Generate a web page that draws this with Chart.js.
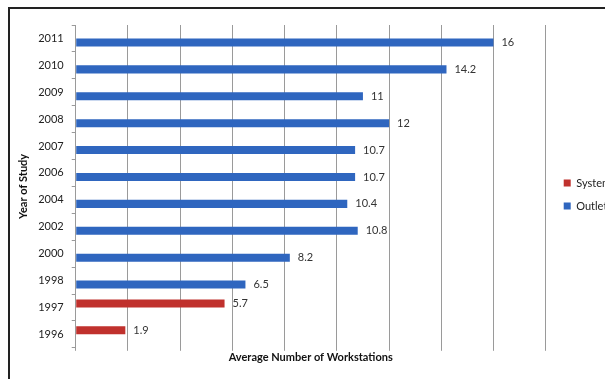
<!DOCTYPE html>
<html>
<head>
<meta charset="utf-8">
<script src="https://cdn.jsdelivr.net/npm/chart.js@4"></script>
<style>
  html, body { margin: 0; padding: 0; background: #fff; overflow: hidden; }
  #wrap { position: relative; width: 605px; height: 379px; overflow: hidden; }
  #frame { position: absolute; left: 8px; top: 7px; width: 700px; height: 500px;
           border-top: 2px solid #222; border-left: 2px solid #222; }
  #myChart { position: absolute; left: 0; top: 0; }
</style>
</head>
<body>
<div id="wrap">
  <div id="frame"></div>
  <canvas id="myChart" width="630" height="379"></canvas>
</div>
<script>
// categories top to bottom
const years = ["2011", "2010", "2009", "2008", "2007", "2006", "2004", "2002", "2000", "1998", "1997", "1996"];
const systemValues = [null, null, null, null, null, null, null, null, null, null, 5.7, 1.9];
const outletValues = [16, 14.2, 11, 12, 10.7, 10.7, 10.4, 10.8, 8.2, 6.5, null, null];
const xTicks = [0, 2, 4, 6, 8, 10, 12, 14, 16, 18];

const font = "Lato, 'Open Sans', sans-serif";

// value labels right of each bar
const barLabels = {
  id: "barLabels",
  afterDatasetsDraw(chart) {
    const ctx = chart.ctx;
    ctx.save();
    ctx.font = "11px " + font;
    ctx.fillStyle = "#333";
    ctx.textBaseline = "middle";
    chart.data.datasets.forEach((ds, i) => {
      chart.getDatasetMeta(i).data.forEach((bar, j) => {
        if (ds.data[j] == null) return;
        ctx.fillText(String(ds.data[j]), bar.x + 8, bar.y);
      });
    });
    ctx.restore();
  }
};

// push the legend a little further from the plot
const legendGap = {
  id: "legendGap",
  afterLayout(chart) {
    chart.legend.left += 6;
    chart.legend.right += 6;
  }
};

const data = {
  labels: years,
  datasets: [{
      label: "System",
      data: systemValues,
      backgroundColor: "#C0312D",
      categoryPercentage: 0.6,
      barPercentage: 1.0,
    },
    {
      label: "Outlet",
      data: outletValues,
      backgroundColor: "#2F66BF",
      categoryPercentage: 0.6,
      barPercentage: 1.0,
    }
  ]
};

const config = {
  type: "bar",
  data: data,
  plugins: [barLabels, legendGap],
  options: {
    indexAxis: "y",
    responsive: false,
    animation: false,
    layout: { padding: { left: 17, top: 25, right: 15, bottom: 15 } },
    scales: {
      x: {
        min: 0,
        max: 18,
        afterBuildTicks: (axis) => { axis.ticks = xTicks.map(v => ({ value: v })); },
        grid: { color: "#9a9a9a", lineWidth: 1, tickLength: 3 },
        border: { display: false },
        ticks: { display: false },
        title: {
          display: true,
          text: "Average Number of Workstations",
          color: "#111",
          font: { family: font, size: 11, weight: "bold" },
          padding: { top: 0, bottom: 0 }
        }
      },
      y: {
        grid: { display: true, drawOnChartArea: false, color: "#9a9a9a", tickLength: 4 },
        border: { display: true, color: "#9a9a9a" },
        ticks: { color: "#222", font: { family: font, size: 11 }, padding: 8 },
        title: {
          display: true,
          text: "Year of Study",
          color: "#111",
          font: { family: font, size: 11, weight: "bold" },
          padding: { top: 0, bottom: 0 }
        }
      }
    },
    plugins: {
      legend: {
        position: "right",
        labels: {
          boxWidth: 7,
          boxHeight: 7,
          padding: 12,
          color: "#222",
          font: { family: font, size: 11 }
        }
      },
      tooltip: { enabled: false }
    }
  }
};

var ctx = document.getElementById("myChart").getContext("2d");
var myChart = new Chart(ctx, config);
</script>
</body>
</html>
